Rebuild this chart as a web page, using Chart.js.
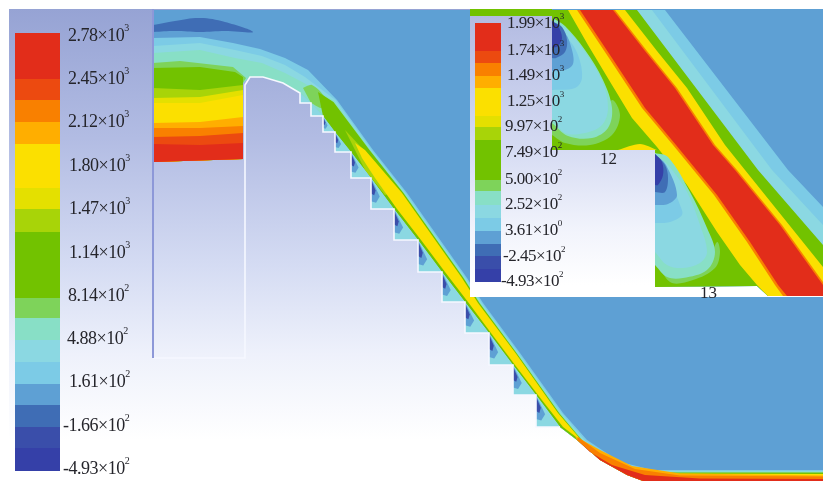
<!DOCTYPE html>
<html>
<head>
<meta charset="utf-8">
<title>Contour chart</title>
<script src="https://cdn.jsdelivr.net/npm/chart.js@4/dist/chart.umd.min.js"></script>
<style>
  html, body { margin: 0; padding: 0; background: #fff; }
  canvas { display: block; filter: blur(0.7px); }
</style>
</head>
<body>
<canvas id="myChart" width="823" height="481"></canvas>
<script>
// contour palette, high to low
const palette = ['#e22d1a', '#ec4a10', '#f98000', '#ffae00', '#fbe000', '#e4e000', '#a8d408', '#72c200',
  '#7ed35a', '#88dfc6', '#8bd8e2', '#7ccbe6', '#5ea0d4', '#3f6db5', '#3a4eaa', '#3540a8']

// colour bars
const mainBarEdges = [33, 79, 100, 122, 144, 188, 209, 232, 298, 318, 340, 362, 384, 405, 427, 448, 471]
const insetBarEdges = [23, 51, 63, 76, 88, 116, 127, 140, 180, 191, 205, 218, 231, 244, 256, 269, 282]

// tick labels
const mainLabels = ['2.78×10', '2.45×10', '2.12×10', '1.80×10', '1.47×10', '1.14×10', '8.14×10', '4.88×10', '1.61×10', '-1.66×10', '-4.93×10']
const mainExps = ['3', '3', '3', '3', '3', '3', '2', '2', '2', '2', '2']
const mainLabelY = [36, 79, 122, 166, 209, 253, 296, 339, 382, 426, 469]
const mainLabelX = [68, 68, 68, 69, 69, 69, 68, 67, 69, 63, 63]
const insetLabels = ['1.99×10', '1.74×10', '1.49×10', '1.25×10', '9.97×10', '7.49×10', '5.00×10', '2.52×10', '3.61×10', '-2.45×10', '-4.93×10']
const insetExps = ['3', '3', '3', '3', '2', '2', '2', '2', '0', '2', '2']
const insetLabelY = [24, 51, 76, 102, 127, 153, 180, 205, 231, 257, 282]
const insetLabelX = [507, 507, 507, 507, 505, 505, 505, 505, 505, 503, 501]

// spillway wall, step tips and run-out
const crest = [[153, 162], [243, 159], [243, 83], [250, 77], [263, 77], [283, 83]]
const stepX = [300, 311, 323, 335, 351, 371, 394, 418, 442, 465, 489, 513, 536, 560]
const stepY = [93, 103, 116, 132, 152, 178, 209, 240, 272, 302, 333, 365, 395, 427]
const runout = [[577, 440], [600, 460], [627, 475], [643, 481], [823, 481]]

// main jet contours, crest to run-out
const lensDark = [[153, 25], [175, 21], [200, 18], [225, 22], [253, 32], [225, 31], [200, 32], [175, 31], [153, 32]]
const skyTop = [[153, 38], [200, 37], [233, 43], [260, 49], [285, 58], [308, 70], [337, 100], [373, 150], [407, 193], [467, 278], [483, 303], [520, 353], [563, 413], [587, 440], [620, 462], [653, 470], [823, 470]]
const paleTop = [[153, 46], [200, 43], [235, 50], [262, 56], [285, 65], [305, 77], [335.5, 100], [371.5, 150], [405.5, 193], [465.5, 278], [481.5, 303], [518.5, 353], [561.5, 413], [585.5, 441], [618, 463], [652, 471], [823, 471]]
const aquaTop = [[153, 53], [200, 50], [235, 58], [262, 63], [285, 73], [304, 83], [334.5, 101], [370.5, 150], [404.5, 193], [464.5, 278], [480.5, 303], [517.5, 353], [560.5, 413], [584.5, 441.5], [617, 464], [651, 471.5], [823, 471.5]]
const jetGreenTop = [[318, 92], [333.5, 102], [369.5, 150], [403.5, 193], [463.5, 278], [479.5, 303], [516.5, 353], [559.5, 413.5], [583.5, 442], [616, 465], [650, 472.5], [823, 472.5]]
const jetPaleGreen = [[303, 88], [312, 85], [325, 98], [322, 108], [311, 103]]
const jetLime = [[345, 130], [375, 162], [395, 192], [385, 195], [365, 170]]
const jetYellowTop = [[355, 143], [365, 150], [402, 193], [462, 278], [478, 303], [515.5, 353], [558, 413], [582, 441], [615, 464], [650, 473.5], [823, 474]]
const jetYellowBottom = [[823, 478], [650, 478], [630, 472], [603, 457], [580, 440], [563, 427], [538, 395], [515, 365], [491, 333], [468, 302], [445, 272], [421, 240], [397, 209], [375, 178], [362, 158]]
const jetAmberTop = [[575, 436], [600, 450], [632, 466], [680, 473.5], [823, 475.5]]
const jetOrangeTop = [[578, 437], [600, 453], [635, 469], [680, 475.5], [823, 476.5]]
const jetRedTop = [[590, 452], [612, 465], [645, 475], [700, 478.5], [823, 479]]
const jetTail = [[823, 481], [643, 481], [627, 475], [600, 460], [577, 440]]

// inlet contours, left wall to right wall
const inletBottom = [[243, 159], [153, 162]]
const inletPaleGreen = [[153, 63], [180, 61], [233, 67], [246, 78], [243, 83]]
const inletGreen = [[153, 68], [200, 67], [235, 72], [243, 77]]
const inletLime = [[153, 88], [200, 90], [243, 85]]
const inletPaleYellow = [[153, 98], [200, 97], [243, 90]]
const inletYellow = [[153, 103], [200, 103], [243, 95]]
const inletAmber = [[153, 123], [200, 122], [243, 117]]
const inletOrange = [[153, 128], [200, 128], [243, 126]]
const inletRedOrange = [[153, 137], [200, 136], [243, 133]]
const inletRed = [[153, 144], [200, 145], [243, 143]]

// inset, the jet between steps 12 and 13
const insetBox = [[470, 9], [823, 9], [823, 297], [470, 297]]
const insetFloor = [[823, 296], [768, 296], [757, 286], [655, 287], [655, 150], [552, 150], [552, 10]]
const insetSky = [[665, 10], [788, 170], [823, 207]]
const insetPale = [[652, 10], [772, 170], [823, 225]]
const insetGreen = [[637, 10], [758, 170], [823, 245]]
const insetYellowRight = [[625, 10], [657, 51], [687, 88], [725, 145], [745, 170], [823, 267]]
const insetYellowLeft = [[768, 296], [757, 285], [740, 265], [717, 232], [687, 185], [657, 147], [632, 118], [612, 85], [588, 45], [568, 10]]
const insetOrangeRight = [[615, 10], [647, 51], [677, 88], [715, 145], [737, 170], [782, 225], [823, 282]]
const insetOrangeLeft = [[783, 296], [775, 285], [747, 242], [714, 195], [673, 145], [642, 108], [609, 58], [577, 10]]
const insetRedRight = [[613, 10], [645, 51], [675, 88], [713, 145], [735, 170], [780, 225], [823, 285]]
const insetRedLeft = [[787, 296], [778, 285], [750, 242], [717, 195], [676, 145], [645, 108], [612, 58], [580, 10]]
const insetStrip = [[470, 9], [552, 9], [552, 16], [470, 16]]
const insetSpot = [[618, 150], [640, 144], [657, 150]]

// upper recirculation cell
const upperPaleGreen = [[552, 115], [570, 128], [600, 125], [612, 100], [620, 115], [612, 135], [590, 145], [565, 143], [552, 135]]
const upperAqua = [[553, 18], [565, 26], [585, 50], [603, 80], [612, 108], [608, 128], [592, 138], [568, 136], [552, 123]]
const upperPale = [[552, 21], [565, 28], [582, 48], [602, 81], [608, 108], [602, 125], [585, 133], [565, 133], [552, 118]]
const upperSky = [[552, 30], [567, 38], [578, 55], [582, 78], [575, 88], [552, 90]]
const upperBlue = [[552, 25], [565, 33], [572, 50], [573, 64], [565, 70], [552, 71]]
const upperNavy = [[552, 21], [562, 27], [567, 40], [565, 52], [556, 58], [552, 58]]
const upperDeep = [[552, 21], [558, 26], [562, 38], [558, 46], [552, 48]]

// lower recirculation cell
const lowerPaleGreen = [[655, 255], [670, 282], [693, 280], [715, 268], [720, 252], [717, 242], [707, 262], [683, 272], [665, 270]]
const lowerAqua = [[655, 153], [668, 157], [690, 192], [707, 228], [715, 252], [707, 270], [683, 278], [667, 277], [655, 265]]
const lowerPale = [[655, 155], [668, 165], [687, 192], [700, 225], [707, 252], [700, 263], [683, 268], [667, 265], [655, 252]]
const lowerSky = [[655, 165], [668, 178], [680, 205], [682, 215], [670, 222], [655, 223]]
const lowerBlue = [[655, 154], [666, 165], [677, 195], [668, 204], [655, 205]]
const lowerNavy = [[655, 154], [665, 165], [668, 178], [665, 192], [655, 192]]
const lowerDeep = [[655, 154], [662, 162], [663, 175], [658, 185], [655, 185]]

const canvas = document.getElementById('myChart')
const ctx = canvas.getContext('2d')

// page backgrounds
const pageGradient = ctx.createLinearGradient(0, 9, 0, 440)
pageGradient.addColorStop(0, '#96a3d4')
pageGradient.addColorStop(0.3, '#b2bce3')
pageGradient.addColorStop(0.6, '#d5dcf3')
pageGradient.addColorStop(0.8, '#eef1fb')
pageGradient.addColorStop(1, '#ffffff')
const insetGradient = ctx.createLinearGradient(0, 16, 0, 285)
insetGradient.addColorStop(0, '#b3bbe2')
insetGradient.addColorStop(0.5, '#d6dcf3')
insetGradient.addColorStop(0.8, '#f2f4fc')
insetGradient.addColorStop(1, '#ffffff')

function poly(points, color, tension) {
    return {
        data: points.map(p => ({ x: p[0], y: p[1] })),
        showLine: true,
        fill: 'shape',
        backgroundColor: color,
        borderWidth: 0,
        pointRadius: 0,
        tension: tension || 0
    }
}

function stroke(points, color, width) {
    return {
        data: points.map(p => ({ x: p[0], y: p[1] })),
        showLine: true,
        fill: false,
        borderColor: color,
        borderWidth: width,
        pointRadius: 0
    }
}

function rect(x0, x1, y0, y1, color) {
    return poly([[x0, y0], [x1, y0], [x1, y1], [x0, y1]], color)
}

// bottom-up painting order
let layers = []
const rev = pts => pts.slice().reverse()
const tips = stepX.map((x, i) => [x, stepY[i]])
const floor = crest.concat(tips, runout)
const jetFloor = tips.slice(2).concat(runout)

layers.push(rect(9, 823, 9, 481, pageGradient))

// blue field and outer bands
layers.push(poly([[153, 10], [823, 10]].concat(rev(floor)), palette[12]))
layers.push(poly(lensDark, palette[13], 0.4))
layers.push(poly(skyTop.concat(rev(floor)), palette[11]))
layers.push(poly(paleTop.concat(rev(floor)), palette[10]))
layers.push(poly(aquaTop.concat(rev(floor)), palette[9]))

// inlet
const inletBands = [[inletPaleGreen, 8], [inletGreen, 7], [inletLime, 6], [inletPaleYellow, 5], [inletYellow, 4],
    [inletAmber, 3], [inletOrange, 2], [inletRedOrange, 1], [inletRed, 0]]
inletBands.forEach(b => layers.push(poly(b[0].concat(inletBottom), palette[b[1]])))

// jet
layers.push(poly(jetPaleGreen, palette[8], 0.3))
layers.push(poly(jetGreenTop.concat(rev(jetFloor)), palette[7]))
layers.push(poly(jetLime, palette[6]))
layers.push(poly(jetYellowTop.concat(jetYellowBottom), palette[4]))
layers.push(poly(jetAmberTop.concat(jetTail), palette[3]))
layers.push(poly(jetOrangeTop.concat(jetTail), palette[2]))
layers.push(poly(jetRedTop.concat(jetTail), palette[0]))

// cells under the steps
for (let i = 0; i < stepX.length - 1; i++) {
    const x0 = stepX[i], x1 = stepX[i + 1], y0 = stepY[i], y1 = stepY[i + 1]
    const w = x1 - x0, h = y1 - y0
    layers.push(poly([[x0, y0], [x0, y1], [x1, y1]], palette[10]))
    if (i > 1) {
        layers.push(poly([[x0, y0], [x0 + 0.38 * w, y0 + 0.6 * h], [x0 + 0.22 * w, y0 + 0.8 * h], [x0, y0 + 0.75 * h]], palette[12]))
        layers.push(poly([[x0, y0 + 0.05 * h], [x0 + 0.2 * w, y0 + 0.4 * h], [x0 + 0.14 * w, y0 + 0.56 * h], [x0, y0 + 0.5 * h]], palette[14]))
    }
}

// wall lines
let wall = [[153, 358], [245, 358], [245, 85], [250, 77], [263, 77], [283, 83], [300, 93]]
for (let i = 0; i < stepX.length - 1; i++) {
    wall.push([stepX[i], stepY[i + 1]], [stepX[i + 1], stepY[i + 1]])
}
layers.push(stroke(wall, '#f6f8ff', 1.6))
layers.push(stroke([[153, 9], [153, 358]], '#8d98d8', 2))

// colour bar, main
palette.forEach((c, i) => layers.push(rect(15, 60, mainBarEdges[i], mainBarEdges[i + 1], c)))

// inset
layers.push(poly(insetBox, '#ffffff'))
layers.push(poly([[552, 9], [823, 9]].concat(insetFloor), palette[12]))
layers.push(poly(insetSky.concat(insetFloor), palette[11]))
layers.push(poly(insetPale.concat(insetFloor), palette[10]))
layers.push(poly(insetGreen.concat(insetFloor), palette[7]))
layers.push(poly(insetYellowRight.concat([[823, 296]], insetYellowLeft), palette[4]))
layers.push(poly(insetOrangeRight.concat([[823, 296]], insetOrangeLeft), palette[2]))
layers.push(poly(insetRedRight.concat([[823, 296]], insetRedLeft), palette[0]))
layers.push(poly(insetSpot, palette[4], 0.3))

const cells = [[upperPaleGreen, 8], [upperAqua, 9], [upperPale, 10], [upperSky, 11], [upperBlue, 12], [upperNavy, 13], [upperDeep, 15],
    [lowerPaleGreen, 8], [lowerAqua, 9], [lowerPale, 10], [lowerSky, 11], [lowerBlue, 12], [lowerNavy, 13], [lowerDeep, 15]]
cells.forEach(c => layers.push(poly(c[0], palette[c[1]], 0.35)))

layers.push(poly(insetStrip, palette[7]))
layers.push(rect(470, 552, 16, 296, insetGradient))
layers.push(rect(552, 655, 150, 287, insetGradient))
palette.forEach((c, i) => layers.push(rect(475, 501, insetBarEdges[i], insetBarEdges[i + 1], c)))

// tick labels go on top, placed through the scales
const tickText = {
    id: 'tickText',
    afterDatasetsDraw(chart) {
        const c = chart.ctx
        const sx = chart.scales.x, sy = chart.scales.y
        function put(text, exp, x, y, size, spacing) {
            c.font = size + 'px "Liberation Serif"'
            c.letterSpacing = spacing + 'px'
            c.fillStyle = '#25252b'
            c.textBaseline = 'middle'
            const px = sx.getPixelForValue(x), py = sy.getPixelForValue(y)
            c.fillText(text, px, py)
            if (exp) {
                const w = c.measureText(text).width
                c.font = Math.round(size * 0.55) + 'px "Liberation Serif"'
                c.fillText(exp, px + w, py - size * 0.42)
            }
        }
        c.save()
        mainLabels.forEach((t, i) => put(t, mainExps[i], mainLabelX[i], mainLabelY[i], 18, -0.5))
        insetLabels.forEach((t, i) => put(t, insetExps[i], insetLabelX[i], insetLabelY[i], 17, -0.5))
        put('12', '', 600, 160, 17, 0)
        put('13', '', 700, 294, 17, 0)
        c.restore()
    }
}

new Chart(canvas, {
    type: 'scatter',
    // first dataset is painted last, so flip the list
    data: { datasets: layers.reverse() },
    options: {
        responsive: false,
        animation: false,
        events: [],
        layout: { padding: 0 },
        plugins: { legend: { display: false }, tooltip: { enabled: false } },
        scales: {
            x: { type: 'linear', min: 0, max: 823, display: false },
            y: { type: 'linear', min: 0, max: 481, reverse: true, display: false }
        }
    },
    plugins: [tickText]
})
</script>
</body>
</html>
